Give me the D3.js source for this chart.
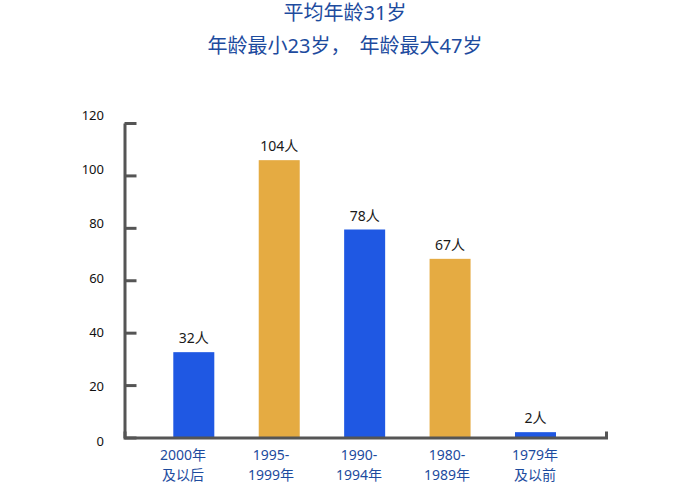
<!DOCTYPE html>
<html>
<head>
<meta charset="utf-8">
<script src="https://cdn.jsdelivr.net/npm/d3@7"></script>
<style>
  body { margin: 0; background: #fff; }
  text { font-family: "Noto Sans", "Noto Sans CJK SC", sans-serif; }
</style>
</head>
<body>
<div id="chart"></div>
<script>
var titles = [["平均年龄31岁"], ["年龄最小23岁，", "年龄最大47岁"]];
var categories = ["2000年\n及以后", "1995-\n1999年", "1990-\n1994年", "1980-\n1989年", "1979年\n及以前"];
var counts = [32, 104, 78, 67, 2];
var barColors = ["#1f58e3", "#e5ab42", "#1f58e3", "#e5ab42", "#1f58e3"];
var yTicks = [0, 20, 40, 60, 80, 100, 120];

var width = 690, height = 483;

var svg = d3.select("#chart")
    .append("svg")
    .attr("width", width)
    .attr("height", height);

// title, second line has a wide gap after the comma
var tt = svg.selectAll("text.title")
    .data(titles)
    .join("text")
    .attr("class", "title")
    .attr("x", width / 2)
    .attr("y", function(d, i) { return 20 + i * 33; })
    .attr("text-anchor", "middle")
    .attr("font-size", 20)
    .attr("fill", "#1d4b9e");
tt.selectAll("tspan")
    .data(function(d) { return d; })
    .join("tspan")
    .attr("dx", function(d, i) { return i > 0 ? 9 : 0; })
    .text(function(d) { return d; });

// scales
var x = d3.scaleBand()
    .domain(categories)
    .range([173.3, 556])
    .paddingInner(0.52)
    .paddingOuter(0);

var xLabel = d3.scalePoint()
    .domain(categories)
    .range([183, 535]);

var yBar = d3.scaleLinear().domain([0, 120]).range([437.5, 117.5]);
var yTick = d3.scaleLinear().domain([0, 120]).range([437.5, 123]);
var yLabel = d3.scaleLinear().domain([0, 120]).range([441, 115]);

var axisColor = "#555";

// y axis (ticks point inward)
var gy = svg.append("g")
    .attr("transform", "translate(124.5,0)")
    .call(d3.axisLeft(yTick).tickValues(yTicks).tickSizeInner(-12).tickSizeOuter(0).tickFormat(""));
gy.selectAll("path, line").attr("stroke", axisColor).attr("stroke-width", 3);

// y tick labels
svg.selectAll("text.ylab")
    .data(yTicks)
    .join("text")
    .attr("class", "ylab")
    .attr("x", 104)
    .attr("y", function(d) { return yLabel(d); })
    .attr("dy", "0.35em")
    .attr("text-anchor", "end")
    .attr("font-size", 13)
    .attr("fill", "#111")
    .text(function(d) { return d; });

// bars
svg.selectAll("rect.bar")
    .data(counts)
    .join("rect")
    .attr("class", "bar")
    .attr("x", function(d, i) { return x(categories[i]); })
    .attr("width", x.bandwidth())
    .attr("y", function(d) { return yBar(d); })
    .attr("height", function(d) { return yBar(0) - yBar(d); })
    .attr("fill", function(d, i) { return barColors[i]; });

// value labels
svg.selectAll("text.val")
    .data(counts)
    .join("text")
    .attr("class", "val")
    .attr("x", function(d, i) { return x(categories[i]) + x.bandwidth() / 2; })
    .attr("y", function(d) { return yBar(d) - 9; })
    .attr("text-anchor", "middle")
    .attr("font-size", 14)
    .attr("fill", "#1a1a1a")
    .text(function(d) { return d + "人"; });

// x axis with right end tick
var xLine = d3.scaleLinear().domain([0, 1]).range([124.5, 606]);
var gx = svg.append("g")
    .attr("transform", "translate(0,437.5)")
    .call(d3.axisBottom(xLine).tickValues([]).tickSizeOuter(-6));
gx.selectAll("path").attr("stroke", axisColor).attr("stroke-width", 3).attr("fill", "none");

// x labels
var xl = svg.selectAll("text.xlab")
    .data(categories)
    .join("text")
    .attr("class", "xlab")
    .attr("text-anchor", "middle")
    .attr("font-size", 14)
    .attr("fill", "#1d4b9e");
xl.selectAll("tspan")
    .data(function(d) { return d.split("\n").map(function(t) { return {t: t, c: d}; }); })
    .join("tspan")
    .attr("x", function(d) { return xLabel(d.c); })
    .attr("y", function(d, i) { return 460 + i * 20; })
    .text(function(d) { return d.t; });
</script>
</body>
</html>
